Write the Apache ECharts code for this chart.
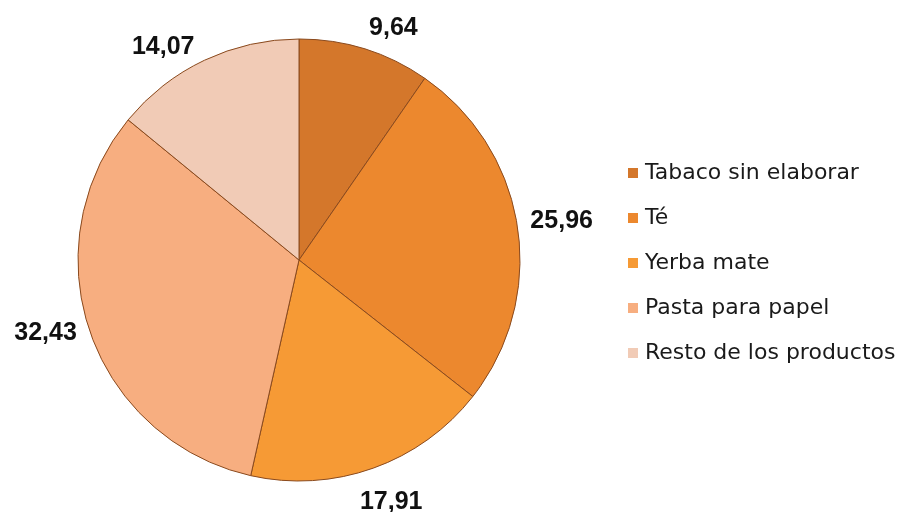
<!DOCTYPE html>
<html>
<head>
<meta charset="utf-8">
<script src="https://cdn.jsdelivr.net/npm/echarts@6/dist/echarts.min.js"></script>
<style>
html,body{margin:0;padding:0;background:#fff;}
#chart{width:919px;height:512px;}
</style>
</head>
<body>
<div id="chart"></div>
<script>
const categories = ["Tabaco sin elaborar", "Té", "Yerba mate", "Pasta para papel", "Resto de los productos"];
const values = [9.64, 25.96, 17.91, 32.43, 14.07];
const labelTexts = ["9,64", "25,96", "17,91", "32,43", "14,07"];
const colors = ["#D4772B", "#EC882E", "#F69A35", "#F7AE80", "#F1CBB6"];

const chart = echarts.init(document.getElementById('chart'));
chart.setOption({
  backgroundColor: '#ffffff',
  animation: false,
  color: colors,
  legend: {
    orient: 'vertical',
    left: 623,
    top: 157,
    itemWidth: 10,
    itemHeight: 10,
    itemGap: 23,
    icon: 'rect',
    itemStyle: { borderWidth: 0 },
    textStyle: { fontFamily: 'DejaVu Sans', fontSize: 22, color: '#1a1a1a', padding: [0, 0, 0, 2] },
    data: categories
  },
  series: [{
    type: 'pie',
    center: [299, 260],
    radius: 221,
    startAngle: 90,
    clockwise: true,
    avoidLabelOverlap: false,
    itemStyle: { borderColor: '#8a4a1e', borderWidth: 1 },
    label: {
      show: true,
      position: 'outside',
      fontFamily: 'Liberation Sans',
      fontWeight: 'bold',
      fontSize: 25,
      color: '#111',
      distanceToLabelLine: 4,
      formatter: p => labelTexts[p.dataIndex]
    },
    labelLine: { show: false, length: 14, length2: 0 },
    labelLayout: function (p) {
      if (p.dataIndex === 2) { return { dx: -22, dy: 21 }; }
      if (p.dataIndex === 0) { return { dx: -4, dy: -8 }; }
      if (p.dataIndex === 1) { return { dx: -5, dy: -4 }; }
      if (p.dataIndex === 3) { return { dx: 4, dy: -3 }; }
      return {};
    },
    emphasis: { disabled: true },
    data: categories.map((c, i) => ({ name: c, value: values[i] }))
  }]
});
</script>
</body>
</html>
